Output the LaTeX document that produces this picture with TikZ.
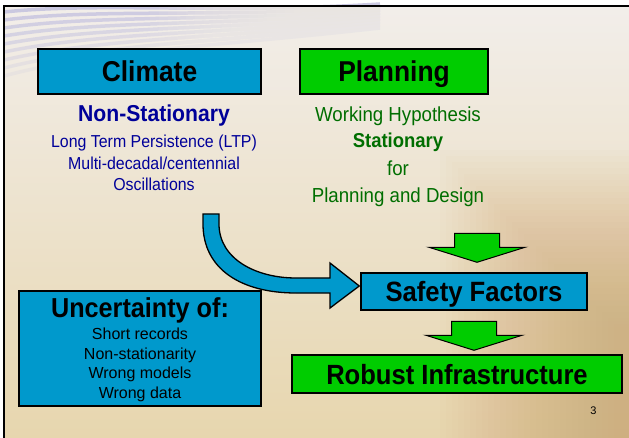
\documentclass[tikz,border=0pt]{standalone}
\usepackage{fontspec}
\setmainfont{Liberation Sans}[FakeStretch=0.92]
\newfontfamily\listfont{Liberation Sans}
\usetikzlibrary{calc}

\definecolor{boxblue}{RGB}{0,153,204}
\definecolor{boxgreen}{RGB}{0,204,0}
\definecolor{textnavy}{RGB}{0,0,153}
\definecolor{textgreen}{RGB}{0,110,0}
\definecolor{bgtop}{RGB}{242,238,234}
\definecolor{bgbottom}{RGB}{231,214,174}
\definecolor{bgtan}{RGB}{206,166,112}
\definecolor{wave}{RGB}{198,196,224}

\newcommand{\fsize}[1]{\fontsize{#1bp}{#1bp}\selectfont}

\begin{document}
\begin{tikzpicture}[x=1bp, y=-1bp,
    box/.style={draw=black, line width=1.4bp, inner sep=0pt, text height=20bp, text depth=0pt},
    bluebox/.style={box, fill=boxblue},
    greenbox/.style={box, fill=boxgreen},
    textline/.style={anchor=base, inner sep=0pt},
    blockarrow/.style={draw=black, line width=1bp, fill=boxgreen},
    curvearrow/.style={draw=black, line width=1.3bp, fill=boxblue, line join=miter}]

  % Definitions
  \def\colL{154}    % centre of the climate column
  \def\colR{398}    % centre of the planning column
  \def\colU{140}    % centre of the uncertainty box

  % Background
  \useasboundingbox (0,0) rectangle (629,438);
  \fill[white] (0,0) rectangle (629,438);
  \fill[top color=bgtop, bottom color=bgbottom] (4,6) rectangle (629,438);
  \foreach \k in {0,...,29}
    \fill[bgtan, opacity=0.03] ({440+6*\k},{150+6*\k}) rectangle (629,438);
  \foreach \i in {0,...,8}
    \draw[wave, line width=3.5bp, opacity={0.9-0.09*\i}]
      (4,{12+8*\i}) .. controls (100,{2+6*\i}) and (220,{14+4*\i}) .. (380,{4+3*\i});
  \foreach \k in {0,...,24}
    \fill[bgtop, opacity=0.1] ({150+9*\k},7) rectangle (400,90);

  % Column headers
  \node[bluebox, minimum width=223bp, minimum height=45bp, font=\bfseries\fsize{28.7}]
    (climate) at (149.5,71.5) {Climate};
  \node[greenbox, minimum width=188bp, minimum height=45bp, font=\bfseries\fsize{28.7}]
    (planning) at (394,71.5) {Planning};

  % Climate column
  \node[textline, text=textnavy, font=\bfseries\fsize{23}] (nonstat) at (\colL,122) {Non-Stationary};
  \node[textline, text=textnavy, font=\fsize{17.3}] (ltp) at (\colL,148) {Long Term Persistence (LTP)};
  \node[textline, text=textnavy, font=\fsize{17.3}] (multi) at (\colL,169.5) {Multi-decadal/centennial};
  \node[textline, text=textnavy, font=\fsize{17.3}] (osc) at (\colL,191) {Oscillations};

  % Planning column
  \node[textline, text=textgreen, font=\fsize{20.3}] (hypo) at (\colR,122) {Working Hypothesis};
  \node[textline, text=textgreen, font=\bfseries\fsize{20.1}] (stat) at (\colR,148) {Stationary};
  \node[textline, text=textgreen, font=\fsize{20.3}] (for) at (\colR,176) {for};
  \node[textline, text=textgreen, font=\fsize{20.3}] (design) at (\colR,203) {Planning and Design};

  % Result boxes
  \node[bluebox, minimum width=226bp, minimum height=37bp, font=\bfseries\fsize{27.9}]
    (safety) at (474,291.5) {Safety Factors};
  \node[greenbox, minimum width=330bp, minimum height=38bp, font=\bfseries\fsize{27.8}]
    (robust) at (457,374) {Robust Infrastructure};

  % Uncertainty box
  \node[bluebox, minimum width=242bp, minimum height=115bp] (uncert) at (\colU,348.5) {};
  \node[textline, font=\bfseries\fsize{27.4}] (uncerttitle) at (\colU,317) {Uncertainty of:};
  \node[textline, font=\listfont\fsize{16}] (short) at (\colU,339.5) {Short records};
  \node[textline, font=\listfont\fsize{16}] (nonstatlist) at (\colU,359) {Non-stationarity};
  \node[textline, font=\listfont\fsize{16}] (models) at (\colU,378.5) {Wrong models};
  \node[textline, font=\listfont\fsize{16}] (data) at (\colU,398) {Wrong data};

  % Block arrows
  \coordinate (bend) at ($(osc.base)+(57,23)$);
  \coordinate (tipA) at ($(safety.north)+(3,-10)$);
  \coordinate (tipB) at ($(robust.north)+(17,-4)$);
  \coordinate (tipC) at ($(safety.west)+(-1,-5.5)$);

  \draw[curvearrow, shift={(bend)}] (-8,0) -- (-8,10)
    .. controls (-8,55) and (30,79) .. (85,79) -- (119,79) -- (119,94) -- (tipC)
    -- (119,49) -- (119,64) -- (85,64)
    .. controls (45,64) and (8,45) .. (8,10) -- (8,0) -- cycle;

  \foreach \tip in {tipA,tipB}
    \draw[blockarrow, shift={(\tip)}] (0,0) -- (-48,-15) -- (-22.5,-15) -- (-22.5,-29)
      -- (22.5,-29) -- (22.5,-15) -- (48,-15) -- cycle;

  % Slide number and frame
  \node[font=\listfont\fsize{11}] (pagenum) at (593.5,411) {3};
  \draw[line width=2.2bp] (4,438) -- (4,6) -- (629,6);

\end{tikzpicture}
\end{document}
